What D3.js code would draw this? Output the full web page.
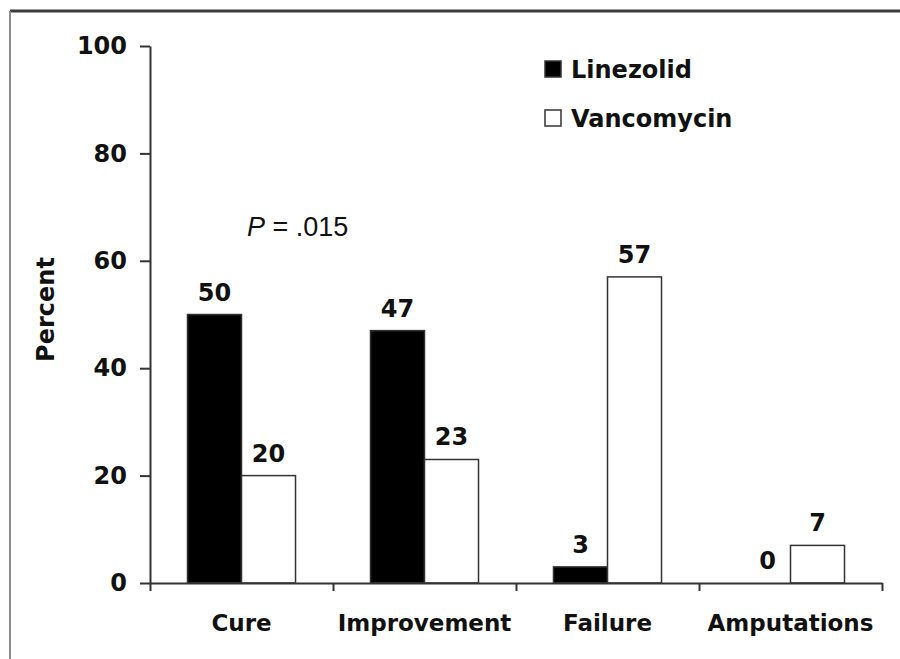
<!DOCTYPE html>
<html>
<head>
<meta charset="utf-8">
<script src="https://cdn.jsdelivr.net/npm/d3@7"></script>
<style>
  body { margin: 0; background: #fff; }
  text { font-family: "DejaVu Sans", sans-serif; font-weight: bold; fill: #111; }
</style>
</head>
<body>
<div id="chart"></div>
<script>
var categories = ["Cure", "Improvement", "Failure", "Amputations"];
var seriesNames = ["Linezolid", "Vancomycin"];
var linezolid = [50, 47, 3, 0];
var vancomycin = [20, 23, 57, 7];
var yTicks = [0, 20, 40, 60, 80, 100];

var width = 900, height = 659;
var margin = {top: 46, right: 18, bottom: 76, left: 150};

var svg = d3.select("#chart").append("svg")
    .attr("width", width)
    .attr("height", height);

// frame of the scanned figure
svg.append("line")
    .attr("x1", 10).attr("x2", width).attr("y1", 11).attr("y2", 11)
    .attr("stroke", "#3c3c3c").attr("stroke-width", 3);
svg.append("line")
    .attr("x1", 10).attr("x2", 10).attr("y1", 11).attr("y2", height)
    .attr("stroke", "#8c8c8c").attr("stroke-width", 2);

var x = d3.scaleBand()
    .domain(categories)
    .range([margin.left, width - margin.right]);

var xs = d3.scaleBand()
    .domain(seriesNames)
    .range([0, x.bandwidth()])
    .paddingOuter(0.694);

var y = d3.scaleLinear()
    .domain([0, 100])
    .range([height - margin.bottom, margin.top]);

var data = d3.merge(categories.map(function(c, i) {
    return [
        {cat: c, series: "Linezolid", value: linezolid[i]},
        {cat: c, series: "Vancomycin", value: vancomycin[i]}
    ];
}));

var fillOf = {Linezolid: "#000", Vancomycin: "#fff"};

// bars
svg.append("g")
    .selectAll("rect")
    .data(data.filter(d => d.value > 0))
    .join("rect")
    .attr("x", d => x(d.cat) + xs(d.series))
    .attr("y", d => y(d.value))
    .attr("width", xs.bandwidth())
    .attr("height", d => y(0) - y(d.value))
    .attr("fill", d => fillOf[d.series])
    .attr("stroke", "#333")
    .attr("stroke-width", 1.5);

// value labels
svg.append("g")
    .selectAll("text")
    .data(data)
    .join("text")
    .attr("x", d => x(d.cat) + xs(d.series) + xs.bandwidth() / 2 + (d.value == 0 ? 4 : 0))
    .attr("y", d => y(d.value) - 14)
    .attr("text-anchor", "middle")
    .style("font-size", "24px")
    .text(d => d.value);

// y axis
var yAxis = svg.append("g")
    .attr("transform", "translate(" + margin.left + ",0)")
    .call(d3.axisLeft(y)
        .tickValues(yTicks)
        .tickSize(10)
        .tickSizeOuter(0)
        .tickPadding(13));
yAxis.select(".domain").attr("stroke", "#333").attr("stroke-width", 2);
yAxis.selectAll(".tick line").attr("stroke", "#333").attr("stroke-width", 2);
yAxis.selectAll(".tick text")
    .style("font-size", "24px")
    .style("font-family", "DejaVu Sans")
    .style("font-weight", "bold")
    .attr("fill", "#111");

// x axis: ticks at category boundaries
var xEdge = d3.scaleLinear()
    .domain([0, categories.length])
    .range(x.range());
var xAxis = svg.append("g")
    .attr("transform", "translate(0," + y(0) + ")")
    .call(d3.axisBottom(xEdge)
        .ticks(categories.length)
        .tickSize(8)
        .tickSizeOuter(0)
        .tickFormat(function() { return ""; }));
xAxis.select(".domain").attr("stroke", "#333").attr("stroke-width", 2);
xAxis.selectAll(".tick line").attr("stroke", "#333").attr("stroke-width", 2);

// category labels
svg.append("g")
    .selectAll("text")
    .data(categories)
    .join("text")
    .attr("x", d => x(d) + x.bandwidth() / 2)
    .attr("y", y(0) + 48)
    .attr("text-anchor", "middle")
    .style("font-size", "23px")
    .text(d => d);

// y label
svg.append("text")
    .attr("transform", "translate(54," + (y(50) - 5) + ") rotate(-90)")
    .attr("text-anchor", "middle")
    .style("font-size", "24px")
    .text("Percent");

// p value
var pText = svg.append("text")
    .attr("x", 247)
    .attr("y", 236)
    .style("font-family", "Liberation Sans, Arial, sans-serif")
    .style("font-weight", "normal")
    .style("font-size", "27px");
pText.append("tspan").style("font-style", "italic").text("P");
pText.append("tspan").text(" = .015");

// legend
var legend = svg.append("g")
    .selectAll("g")
    .data(seriesNames)
    .join("g")
    .attr("transform", (d, i) => "translate(545," + (61 + i * 49) + ")");
legend.append("rect")
    .attr("width", 16)
    .attr("height", 16)
    .attr("fill", d => fillOf[d])
    .attr("stroke", "#333")
    .attr("stroke-width", 1.5);
legend.append("text")
    .attr("x", 26)
    .attr("y", 17)
    .style("font-size", "24px")
    .text(d => d);
</script>
</body>
</html>
